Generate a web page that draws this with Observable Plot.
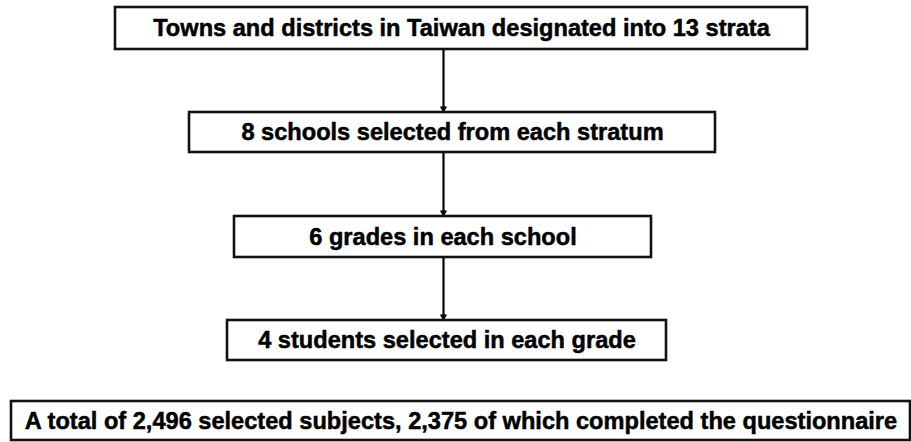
<!DOCTYPE html>
<html>
<head>
<meta charset="utf-8">
<script src="https://cdn.jsdelivr.net/npm/d3@7"></script>
<script src="https://cdn.jsdelivr.net/npm/@observablehq/plot@0.6"></script>
<style>
  html, body { margin: 0; padding: 0; background: #fff; }
  #chart { width: 911px; height: 442px; overflow: hidden; }
</style>
</head>
<body>
<div id="chart"></div>
<script>
// Flowchart steps (text as in the figure)
const steps = [
  "Towns and districts in Taiwan designated into 13 strata",
  "8 schools selected from each stratum",
  "6 grades in each school",
  "4 students selected in each grade",
  "A total of 2,496 selected subjects, 2,375 of which completed the questionnaire"
];
// Box extents in diagram units
const boxLeft   = [115, 189, 234, 227, 11];
const boxRight  = [807, 715, 651, 666, 910];
const boxTop    = [7, 112, 216, 320, 401];
const boxBottom = [49, 152, 257, 360, 440];
// Arrows: from step -> to step
const arrowFrom = [0, 1, 2];
const arrowTo   = [1, 2, 3];
const arrowX    = [443, 443, 443];

const boxes = steps.map((text, i) => ({
  text, x1: boxLeft[i], x2: boxRight[i], y1: boxTop[i], y2: boxBottom[i]
}));
const arrows = arrowFrom.map((f, i) => ({
  x: arrowX[i], y1: boxBottom[f], y2: boxTop[arrowTo[i]]
}));

const W = 911, H = 442;
const chart = Plot.plot({
  width: W,
  height: H,
  margin: 0,
  style: { background: "#fff" },
  x: { type: "linear", domain: [0, W], range: [0, W], axis: null },
  y: { type: "linear", domain: [0, H], range: [0, H], axis: null },
  marks: [
    Plot.link(arrows, {
      x1: "x", x2: "x", y1: "y1", y2: d => d.y2 - 4,
      stroke: "#000", strokeWidth: 2.2
    }),
    Plot.dot(arrows, {
      x: "x", y: "y2", dy: -4, symbol: "triangle", rotate: 180, r: 2.7,
      fill: "#000", stroke: "none"
    }),
    Plot.rect(boxes, {
      x1: "x1", x2: "x2", y1: "y1", y2: "y2",
      fill: "#fff", stroke: "#111", strokeWidth: 2.6
    }),
    Plot.text(boxes, {
      x: d => (d.x1 + d.x2) / 2,
      y: d => (d.y1 + d.y2) / 2,
      text: "text",
      fontSize: 23.6,
      fontWeight: "bold",
      fontFamily: "'Liberation Sans', Arial, sans-serif",
      fill: "#000",
      stroke: "#000",
      strokeWidth: 0.5,
      textAnchor: "middle",
      lineAnchor: "middle"
    })
  ]
});
document.getElementById("chart").appendChild(chart);
</script>
</body>
</html>
